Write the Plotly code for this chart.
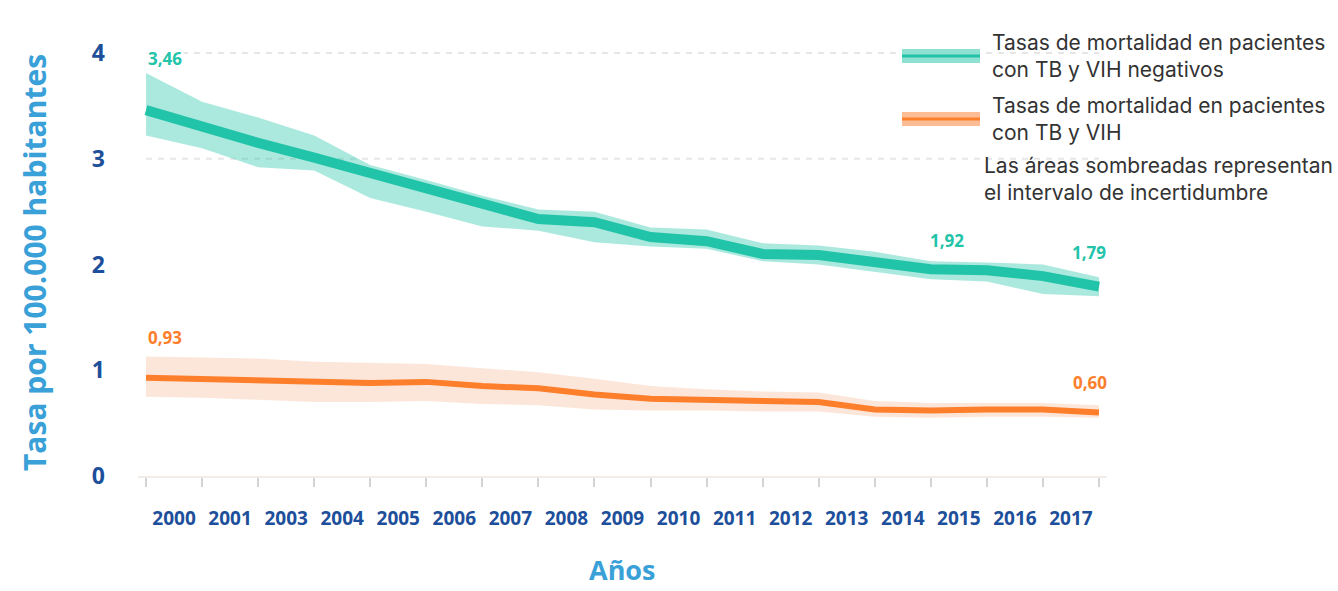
import plotly.graph_objects as go

# Datos (tasas por 100.000 habitantes)
anios = list(range(2000, 2018))
etiquetas = ["2000", "2001", "2003", "2004", "2005", "2006", "2007", "2008", "2009",
             "2010", "2011", "2012", "2013", "2014", "2015", "2016", "2017"]

vih_neg = [3.46, 3.30, 3.15, 3.01, 2.86, 2.71, 2.57, 2.43, 2.40, 2.26, 2.22, 2.10,
           2.09, 2.03, 1.955, 1.945, 1.89, 1.79]
vih_neg_sup = [3.81, 3.54, 3.39, 3.22, 2.94, 2.80, 2.65, 2.52, 2.50, 2.35, 2.33, 2.20,
               2.18, 2.12, 2.03, 2.02, 2.00, 1.88]
vih_neg_inf = [3.22, 3.10, 2.92, 2.89, 2.63, 2.50, 2.36, 2.32, 2.21, 2.17, 2.15, 2.03,
               2.00, 1.93, 1.86, 1.84, 1.72, 1.70]

vih_pos = [0.93, 0.92, 0.90, 0.89, 0.88, 0.89, 0.85, 0.83, 0.77, 0.73, 0.72, 0.71,
           0.70, 0.63, 0.62, 0.63, 0.63, 0.60]
vih_pos_sup = [1.13, 1.12, 1.11, 1.08, 1.07, 1.06, 1.02, 0.98, 0.92, 0.85, 0.82, 0.80,
               0.79, 0.71, 0.69, 0.69, 0.69, 0.67]
vih_pos_inf = [0.75, 0.74, 0.72, 0.70, 0.70, 0.71, 0.68, 0.67, 0.63, 0.62, 0.62, 0.61,
               0.61, 0.56, 0.55, 0.56, 0.56, 0.55]

TEAL = "#22c4a9"
TEAL_BAND = "rgba(34,196,169,0.38)"
NARANJA = "#fd7e2b"
NARANJA_BAND = "rgba(245,160,110,0.26)"
AZUL = "#1d4f9b"
CELESTE = "#3aa0d8"

W, H = 1338, 591
L, R, T, B = 138, 231, 21, 115
x_px0, x_px1 = 146, 1099          # pixel position of first / last year
ppu = (x_px1 - x_px0) / (len(anios) - 1)
x_rango = [-(x_px0 - L) / ppu, len(anios) - 1 + (W - R - x_px1) / ppu]
y_rango = [0, (H - T - B) / 105.75]

idx = list(range(len(anios)))


def px_x(p):
    return (p - L) / (W - L - R)


def px_y(p):
    return (H - B - p) / (H - T - B)


fig = go.Figure()

# bandas de incertidumbre
fig.add_trace(go.Scatter(x=idx, y=vih_neg_sup, mode="lines", line=dict(width=0),
                         hoverinfo="skip", showlegend=False))
fig.add_trace(go.Scatter(x=idx, y=vih_neg_inf, mode="lines", line=dict(width=0),
                         fill="tonexty", fillcolor=TEAL_BAND, hoverinfo="skip", showlegend=False))
fig.add_trace(go.Scatter(x=idx, y=vih_pos_sup, mode="lines", line=dict(width=0),
                         hoverinfo="skip", showlegend=False))
fig.add_trace(go.Scatter(x=idx, y=vih_pos_inf, mode="lines", line=dict(width=0),
                         fill="tonexty", fillcolor=NARANJA_BAND, hoverinfo="skip", showlegend=False))

# lineas principales
fig.add_trace(go.Scatter(x=idx, y=vih_neg, mode="lines", line=dict(color=TEAL, width=10),
                         name="VIH negativos", showlegend=False))
fig.add_trace(go.Scatter(x=idx, y=vih_pos, mode="lines", line=dict(color=NARANJA, width=6),
                         name="VIH", showlegend=False))

# lineas de cuadricula punteadas (solo 3 y 4)
for v in [3, 4]:
    fig.add_shape(type="line", xref="x", yref="y", x0=0, x1=len(anios) - 1, y0=v, y1=v,
                  line=dict(color="#e6e6e6", width=2, dash="6px,6px"), layer="below")

# etiquetas de valores
lab_font = dict(family="Open Sans", size=17, weight="bold")
fig.add_annotation(x=0, y=vih_neg[0], text="3,46", showarrow=False, xanchor="left",
                   yshift=52, bgcolor="white", font=dict(lab_font, color=TEAL))
fig.add_annotation(x=14, y=vih_neg[14], text="1,92", showarrow=False, xshift=16,
                   yshift=29, font=dict(lab_font, color=TEAL))
fig.add_annotation(x=17, y=vih_neg[17], text="1,79", showarrow=False, xshift=-10,
                   yshift=34, font=dict(lab_font, color=TEAL))
fig.add_annotation(x=0, y=vih_pos[0], text="0,93", showarrow=False, xanchor="left",
                   yshift=40, font=dict(lab_font, color=NARANJA))
fig.add_annotation(x=17, y=vih_pos[17], text="0,60", showarrow=False, xshift=-9,
                   yshift=30, font=dict(lab_font, color=NARANJA))

# leyenda dibujada a mano
leg_font = dict(family="Inter", size=21, color="#333333")
for yc, band, col, txt in [(56, "#8ee0d0", TEAL,
                            "Tasas de mortalidad en pacientes<br>con TB y VIH negativos"),
                           (119, "#fdbc94", NARANJA,
                            "Tasas de mortalidad en pacientes<br>con TB y VIH")]:
    fig.add_shape(type="rect", xref="paper", yref="paper", x0=px_x(902), x1=px_x(980),
                  y0=px_y(yc + 7), y1=px_y(yc - 7), fillcolor=band, line=dict(width=0))
    fig.add_shape(type="line", xref="paper", yref="paper", x0=px_x(902), x1=px_x(980),
                  y0=px_y(yc), y1=px_y(yc), line=dict(color=col, width=3))
    fig.add_annotation(xref="paper", yref="paper", x=px_x(990), y=px_y(yc), text=txt,
                       showarrow=False, xanchor="left", yanchor="middle", align="left",
                       font=leg_font)
fig.add_annotation(xref="paper", yref="paper", x=px_x(982), y=px_y(179),
                   text="Las áreas sombreadas representan<br>el intervalo de incertidumbre",
                   showarrow=False, xanchor="left", yanchor="middle", align="left",
                   font=leg_font)

# titulos de ejes
fig.add_annotation(xref="paper", yref="paper", x=px_x(34), y=px_y(263),
                   xanchor="center", yanchor="middle",
                   text="Tasa por 100.000 habitantes", textangle=-90, showarrow=False,
                   font=dict(family="Open Sans", size=30, weight="bold", color=CELESTE))
fig.add_annotation(xref="paper", yref="paper", x=px_x(622), y=px_y(569),
                   xanchor="center", yanchor="middle", text="Años",
                   showarrow=False, borderpad=0,
                   font=dict(family="Open Sans", size=27, weight="bold", color=CELESTE))

fig.update_layout(
    width=W, height=H,
    margin=dict(l=L, r=R, t=T, b=B),
    plot_bgcolor="white", paper_bgcolor="white",
    showlegend=False,
    xaxis=dict(
        range=x_rango,
        tickmode="array",
        tickvals=[i + 0.5 for i in range(len(etiquetas))],
        ticktext=etiquetas,
        ticks="",
        ticklabelstandoff=24,
        tickfont=dict(family="Open Sans", size=19, weight="bold", color=AZUL),
        showgrid=False, zeroline=False,
        showline=True, linecolor="#f3ede9", linewidth=2,
        minor=dict(tickmode="array", tickvals=idx, ticks="outside", ticklen=9,
                   tickwidth=2, tickcolor="#d4d4d4", showgrid=False),
    ),
    yaxis=dict(
        range=y_rango,
        tickmode="array", tickvals=[0, 1, 2, 3, 4],
        ticks="", ticklabelstandoff=32,
        tickfont=dict(family="Open Sans", size=23, weight="bold", color=AZUL),
        showgrid=False, zeroline=False, showline=False,
    ),
)

fig.write_html("out.html", config={"displayModeBar": False},
               post_script="document.body.style.margin='0';")
